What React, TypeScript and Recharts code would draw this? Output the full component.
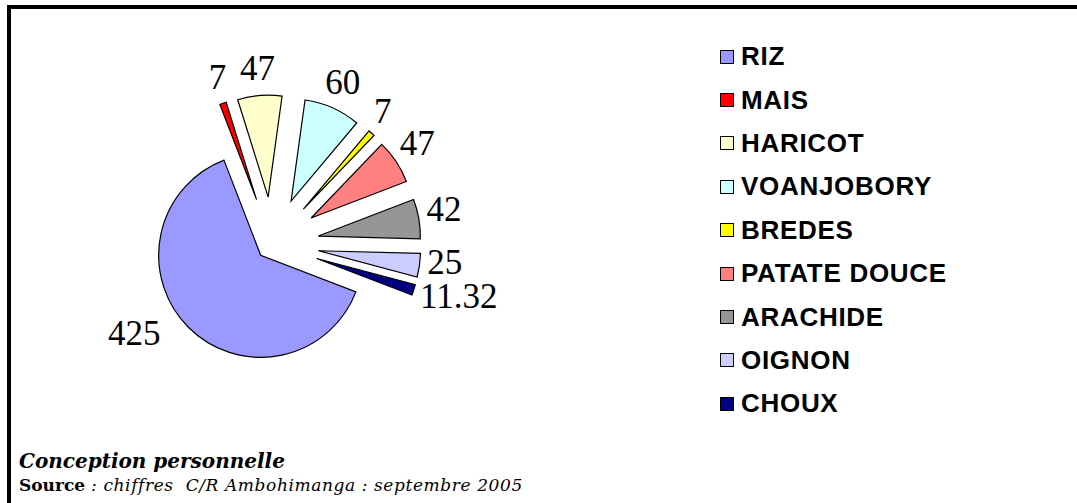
import React from 'react';
import { PieChart, Pie, Cell, Sector, Legend } from 'recharts';

const CATEGORIES = ['RIZ', 'MAIS', 'HARICOT', 'VOANJOBORY', 'BREDES', 'PATATE DOUCE', 'ARACHIDE', 'OIGNON', 'CHOUX'];
const VALUES = [425, 7, 47, 60, 7, 47, 42, 25, 11.32];
const COLORS = ['#9999FF', '#FF0000', '#FFFFCC', '#CCFFFF', '#FFFF00', '#FF8080', '#969696', '#CCCCFF', '#000080'];

const data = CATEGORIES.map((name, i) => ({ name, value: VALUES[i] }));

const RAD = Math.PI / 180;
// RIZ sits almost in the middle, every other slice is pulled out
const explodeOf = (index: number) => (index === 0 ? 16 : 47);

const serif = "'Liberation Serif', 'Times New Roman', serif";
const sans = "'Liberation Sans', Arial, sans-serif";
const noteFont = "'DejaVu Serif', Georgia, serif";

const ExplodedSector = (props: any) => {
  const { cx, cy, midAngle, index } = props;
  const e = explodeOf(index ?? 0);
  const dx = Math.cos(-midAngle * RAD) * e;
  const dy = Math.sin(-midAngle * RAD) * e;
  return <Sector {...props} cx={cx + dx} cy={cy + dy} />;
};

const renderLabel = (props: any) => {
  const { cx, cy, midAngle, outerRadius, value, index } = props;
  const e = explodeOf(index);
  // the big slice's label sits a little further round, as in the source chart
  const angle = index === 0 ? midAngle - 10 : midAngle;
  const ux = Math.cos(-angle * RAD);
  const uy = Math.sin(-angle * RAD);
  const r = e + outerRadius + (index === 0 ? 24 : 8);
  const text = String(value);
  const w = text.replace('.', '').length * 17.5 + (text.includes('.') ? 8.75 : 0);
  const h = 26;
  const lift = uy > 0.2 ? 0 : 6;
  const x = cx + ux * r + (ux * w) / 2;
  const y = cy + uy * r + (uy * h) / 2 - lift;
  return (
    <text x={x} y={y} textAnchor="middle" dominantBaseline="central" fontFamily={serif} fontSize={35} fill="#000">
      {text}
    </text>
  );
};

const renderLegend = (props: any) => {
  const { payload = [] } = props;
  return (
    <div>
      {payload.map((entry: any) => {
        const i = CATEGORIES.indexOf(entry.value);
        return (
          <div key={entry.value} style={{ display: 'flex', alignItems: 'center', height: 43.4 }}>
            <span
              style={{
                display: 'inline-block',
                width: 12,
                height: 12,
                background: COLORS[i],
                border: '1.5px solid #000',
                marginRight: 7,
              }}
            />
            <span style={{ fontFamily: sans, fontWeight: 'bold', fontSize: 26, letterSpacing: 0.7, color: '#000' }}>
              {entry.value}
            </span>
          </div>
        );
      })}
    </div>
  );
};

export default function App() {
  return (
    <div style={{ position: 'absolute', left: 0, top: 0, width: 1077, height: 503, background: '#fff', overflow: 'hidden' }}>
      <div style={{ position: 'absolute', left: 7, top: 5, width: 1070, height: 4, background: '#000' }} />
      <div style={{ position: 'absolute', left: 7, top: 5, width: 4, height: 498, background: '#000' }} />
      <div style={{ position: 'absolute', left: 0, top: 0 }}>
        <PieChart width={1077} height={440}>
          <Pie
            data={data}
            dataKey="value"
            nameKey="name"
            cx={267}
            cy={239}
            outerRadius={102}
            startAngle={-21}
            endAngle={-381}
            stroke="#000"
            strokeWidth={1.2}
            label={renderLabel}
            labelLine={false}
            shape={ExplodedSector}
            inactiveShape={ExplodedSector}
            activeShape={ExplodedSector}
            isAnimationActive={false}
          >
            {data.map((d, i) => (
              <Cell key={d.name} fill={COLORS[i]} />
            ))}
          </Pie>
          <Legend
            layout="vertical"
            itemSorter={null}
            content={renderLegend}
            wrapperStyle={{ position: 'absolute', left: 720, top: 35, width: 320 }}
          />
        </PieChart>
      </div>
      <div
        style={{
          position: 'absolute',
          left: 19,
          top: 449,
          fontFamily: noteFont,
          fontWeight: 'bold',
          fontStyle: 'italic',
          fontSize: 20,
          color: '#000',
          whiteSpace: 'nowrap',
        }}
      >
        Conception personnelle
      </div>
      <div
        style={{
          position: 'absolute',
          left: 19,
          top: 475,
          fontFamily: noteFont,
          fontSize: 17,
          color: '#000',
          whiteSpace: 'nowrap',
        }}
      >
        <span style={{ fontWeight: 'bold' }}>Source</span>
        <span style={{ fontStyle: 'italic', letterSpacing: 0.6 }}> : chiffres&nbsp;&nbsp;C/R Ambohimanga : septembre 2005</span>
      </div>
    </div>
  );
}
